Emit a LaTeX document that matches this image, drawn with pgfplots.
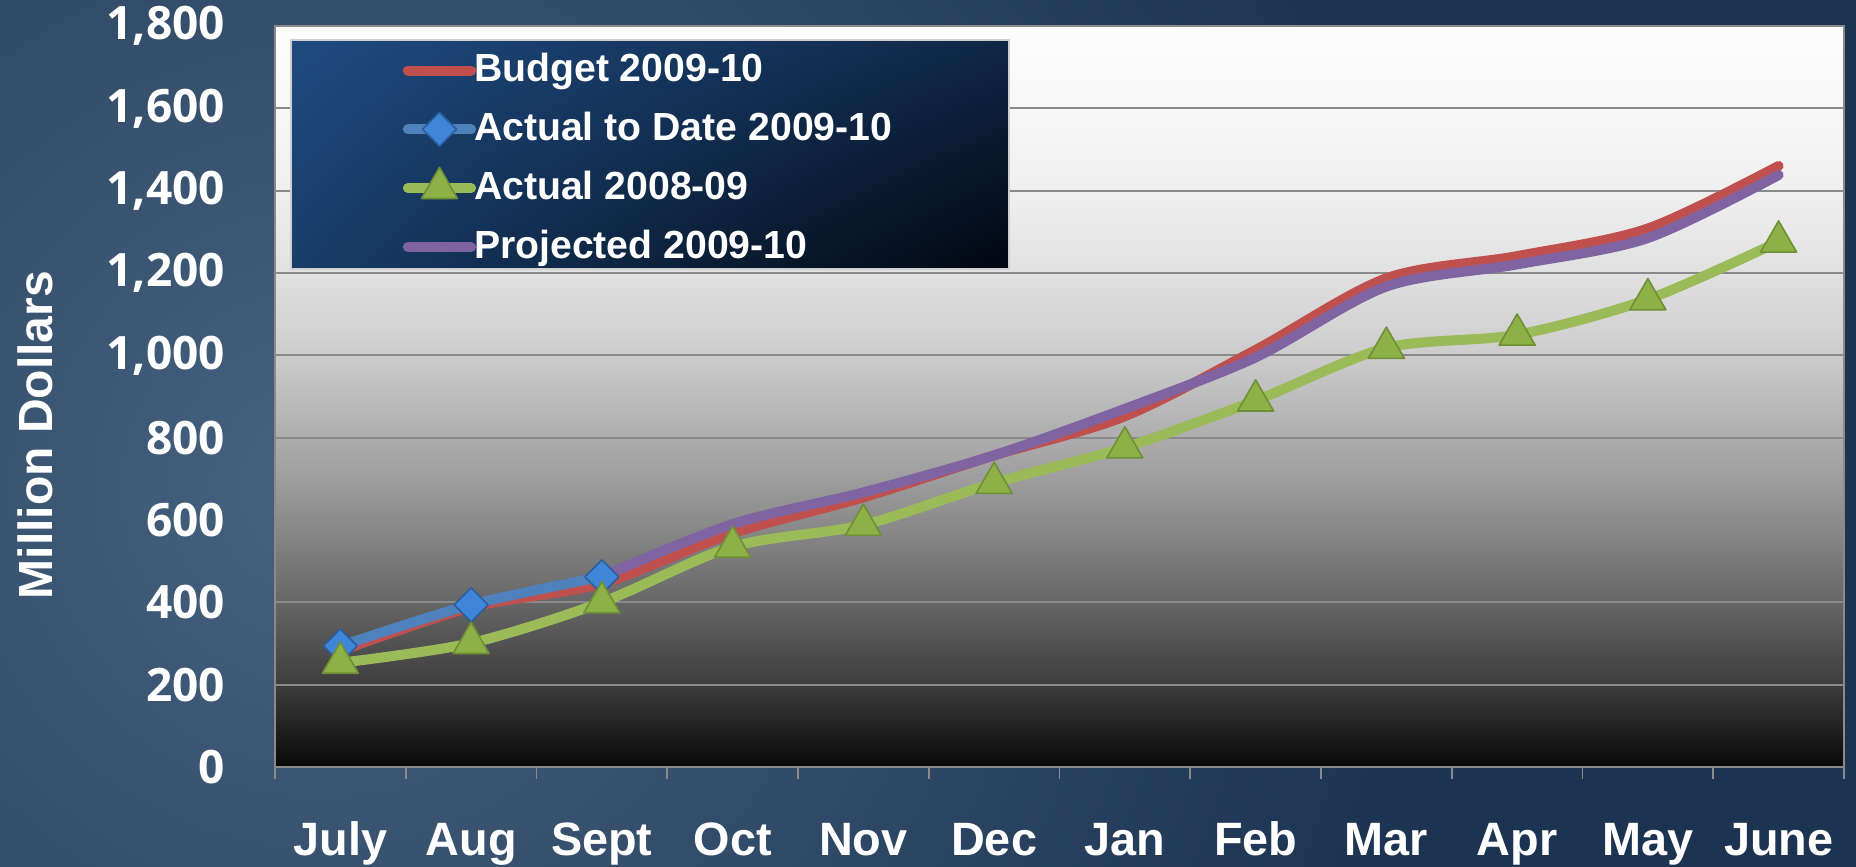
\documentclass[border=0pt]{standalone}
\usepackage{fontspec}
\setmainfont{Liberation Sans}
\newfontfamily\tickfont{Open Sans}
\usepackage{pgfplots}
\pgfplotsset{compat=1.18}
\usetikzlibrary{shadings}

\definecolor{bgdark}{HTML}{1C3352}
\definecolor{bglight}{HTML}{46627F}
\definecolor{gridgray}{HTML}{8A8A8A}
\definecolor{cred}{HTML}{C0504D}
\definecolor{cblue}{HTML}{4F81BD}
\definecolor{cbluemark}{HTML}{3F86D8}
\definecolor{cbluedark}{HTML}{2A5E9E}
\definecolor{cgreen}{HTML}{9BBB59}
\definecolor{cgreenmark}{HTML}{8DB147}
\definecolor{cgreendark}{HTML}{6F8F35}
\definecolor{cpurple}{HTML}{8064A2}
\definecolor{legUL}{HTML}{1F4B80}
\definecolor{legUR}{HTML}{0F2747}
\definecolor{legLL}{HTML}{183D69}
\definecolor{legLR}{HTML}{01060F}
\definecolor{legborder}{HTML}{D0D0D0}

\pgfdeclareverticalshading{plotbg}{100bp}{%
  color(0bp)=(white!3!black); color(25bp)=(white!3!black);
  color(30.56bp)=(white!24!black); color(36.11bp)=(white!40!black);
  color(41.67bp)=(white!55!black); color(47.22bp)=(white!68!black);
  color(52.78bp)=(white!80!black); color(58.33bp)=(white!88!black);
  color(63.89bp)=(white!94!black); color(69.44bp)=(white!97!black);
  color(75bp)=(white!99!black); color(100bp)=(white!99!black)}

\pgfplotstableread{
x budget
0 282
1 388
2 446
3 568
4 655
5 757
6 852
7 1013
8 1187
9 1241
10 1308
11 1460
}\budget

\pgfplotstableread{
x actual
0 294
1 394
2 462
}\actualdate

\pgfplotstableread{
x prev
0 253
1 301
2 400
3 535
4 588
5 690
6 776
7 890
8 1018
9 1050
10 1136
11 1276
}\prevyear

\pgfplotstableread{
x proj
2 462
3 590
4 667
5 757
6 870
7 995
8 1167
9 1221
10 1285
11 1438
}\projected

\begin{document}
\begin{tikzpicture}
\begin{scope}
\clip (0,0) rectangle (464pt,216.75pt);
\fill[bgdark] (0,0) rectangle (464pt,216.75pt);
\shade[inner color=bglight, outer color=bgdark] (80pt,95pt) circle (280pt);
\end{scope}
\begin{axis}[
  at={(68.75pt,25pt)}, anchor=south west,
  scale only axis, width=392.25pt, height=185.25pt,
  xmin=-0.5, xmax=11.5, ymin=0, ymax=1800,
  xtick={0,...,11},
  xticklabels={July,Aug,Sept,Oct,Nov,Dec,Jan,Feb,Mar,Apr,May,June},
  minor xtick={-0.5,0.5,...,11.5},
  ytick={0,200,...,1800},
  major tick length=0pt, minor tick length=3pt, tick align=outside,
  xtick pos=bottom, ytick pos=left,
  minor tick style={gridgray, line width=0.45pt},
  ymajorgrids, major grid style={gridgray, line width=0.45pt},
  axis line style={gridgray, line width=0.5pt},
  axis background/.style={shading=plotbg},
  /pgf/number format/.cd, 1000 sep={,}, assume math mode=true, /pgfplots/.cd,
  xticklabel style={font=\fontsize{11.7}{12}\selectfont\bfseries, text=white, anchor=base, yshift=-22.25pt},
  yticklabel style={font=\tickfont\fontsize{11.5}{12}\selectfont\bfseries, text=white, anchor=east, xshift=-9pt},
  ylabel={Million Dollars},
  ylabel style={at={(rel axis cs:-0.153,0.448)}, anchor=center, font=\fontsize{12}{12}\selectfont\bfseries, text=white},
  legend style={at={(rel axis cs:0.081,0.975)}, anchor=north west, draw=none, fill=none,
    text=white, font=\fontsize{9.8}{10}\selectfont\bfseries, inner sep=0pt, row sep=2.1pt, column sep=-2.5pt,
    legend cell align=left},
  legend image code/.code={
    \draw[mark repeat=2,mark phase=2,#1] plot coordinates {(0pt,0pt) (7.9pt,0pt) (15.8pt,0pt)};
  },
  every axis plot/.append style={line width=2.5pt, line cap=round, line join=round},
]
\shadedraw[draw=legborder, line width=0.4pt, upper left=legUL, upper right=legUR, lower left=legLL, lower right=legLR]
  (rel axis cs:0.0102,0.672) rectangle (rel axis cs:0.468,0.981);
\addplot[cred, smooth, tension=0.5] table[x=x,y=budget] {\budget};
\addlegendentry{Budget 2009-10}
\addplot[cblue, smooth, tension=0.5, mark=square*, mark size=3pt,
  mark options={rotate=45, fill=cbluemark, draw=cbluedark, line width=0.4pt}] table[x=x,y=actual] {\actualdate};
\addlegendentry{Actual to Date 2009-10}
\addplot[cgreen, smooth, tension=0.5, mark=triangle*, mark size=5.2pt,
  mark options={fill=cgreenmark, draw=cgreendark, line width=0.4pt}] table[x=x,y=prev] {\prevyear};
\addlegendentry{Actual 2008-09}
\addplot[cpurple, smooth, tension=0.5] table[x=x,y=proj] {\projected};
\addlegendentry{Projected 2009-10}
\end{axis}
\pgfresetboundingbox
\path[use as bounding box] (0,0) rectangle (464pt,216.75pt);
\end{tikzpicture}
\end{document}
